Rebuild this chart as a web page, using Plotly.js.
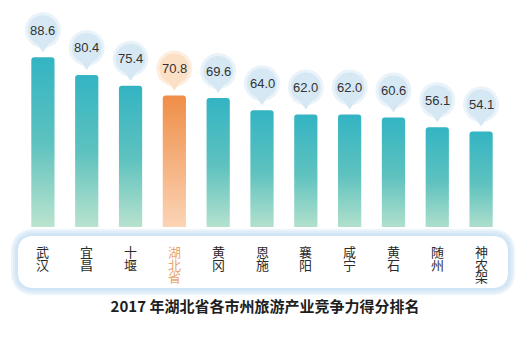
<!DOCTYPE html>
<html>
<head>
<meta charset="utf-8">
<script src="https://cdn.plot.ly/plotly-3.0.1.min.js"></script>
<style>
html,body{margin:0;padding:0;background:#fff;}
#chart{width:530px;height:338px;}
</style>
</head>
<body>
<div id="chart"></div>
<script>
// ---- data ----
const categories = ["武汉","宜昌","十堰","湖北省","黄冈","恩施","襄阳","咸宁","黄石","随州","神农架"];
const scores = [88.6, 80.4, 75.4, 70.8, 69.6, 64.0, 62.0, 62.0, 60.6, 56.1, 54.1];
const valueLabels = ["88.6","80.4","75.4","70.8","69.6","64.0","62.0","62.0","60.6","56.1","54.1"];
const highlight = "湖北省";
const chartTitle = "2017 年湖北省各市州旅游产业竞争力得分排名";

// ---- styles ----
const TEAL = "#35b5c3", ORANGE = "#f0904a";
const barColors = categories.map(c => c === highlight ? ORANGE : TEAL);

const shapes = [];
const annotations = [];

// label panel (pill) with soft blue glow
function roundRect(xl, xr, yb, yt, r) {
  return `M ${xl + r} ${yb} L ${xr - r} ${yb} Q ${xr} ${yb} ${xr} ${yb + r} L ${xr} ${yt - r} Q ${xr} ${yt} ${xr - r} ${yt} L ${xl + r} ${yt} Q ${xl} ${yt} ${xl} ${yt - r} L ${xl} ${yb + r} Q ${xl} ${yb} ${xl + r} ${yb} Z`;
}
const pillPath = roundRect(-3, 487, -61, -9, 16);
[14, 10, 6, 3].forEach(w => {
  shapes.push({type: "path", xref: "paper", yref: "paper", xsizemode: "pixel", ysizemode: "pixel",
    xanchor: 0, yanchor: 0, path: pillPath, line: {color: "#c4def4", width: w}, opacity: 0.32,
    fillcolor: "rgba(0,0,0,0)", layer: "below"});
});
shapes.push({type: "path", xref: "paper", yref: "paper", xsizemode: "pixel", ysizemode: "pixel",
  xanchor: 0, yanchor: 0, path: pillPath, line: {width: 0}, fillcolor: "#ffffff", layer: "below"});

// bubbles + value labels + vertical category labels
categories.forEach((c, i) => {
  const hl = c === highlight;
  const outer = hl ? "#fdeee0" : "#eaf3f9";
  const inner = hl ? "#fce0c6" : "#d6e8f3";
  shapes.push({type: "circle", xref: "x", yref: "y", xsizemode: "pixel", ysizemode: "pixel",
    xanchor: i, yanchor: scores[i], x0: -18, x1: 18, y0: 9, y1: 45,
    fillcolor: outer, line: {width: 0}, layer: "above"});
  shapes.push({type: "path", xref: "x", yref: "y", xsizemode: "pixel", ysizemode: "pixel",
    xanchor: i, yanchor: scores[i], path: "M -7 15 L 7 15 L 0 5 Z",
    fillcolor: inner, line: {width: 0}, layer: "above"});
  shapes.push({type: "circle", xref: "x", yref: "y", xsizemode: "pixel", ysizemode: "pixel",
    xanchor: i, yanchor: scores[i], x0: -15, x1: 15, y0: 12, y1: 42,
    fillcolor: inner, line: {width: 0}, layer: "above"});
  annotations.push({x: c, y: scores[i], xref: "x", yref: "y", yshift: 27, yanchor: "middle",
    text: valueLabels[i], showarrow: false,
    font: {family: "Liberation Sans, Arial, sans-serif", size: 13, color: "#333333"}});
  annotations.push({x: c, y: 0, xref: "x", yref: "paper", yanchor: "top", yshift: -13,
    text: Array.from(c).join("<br>"), showarrow: false,
    font: {family: "Noto Sans CJK SC, sans-serif", size: 13, color: hl ? "#e9a56e" : "#2b2b2b"}});
});

const trace = {
  type: "bar", x: categories, y: scores, width: 0.53,
  marker: {color: barColors, cornerradius: 3, line: {width: 0}},
  hoverinfo: "skip"
};

const layout = {
  width: 530, height: 338,
  margin: {l: 21, r: 27, t: 0, b: 111},
  paper_bgcolor: "#ffffff", plot_bgcolor: "#ffffff",
  showlegend: false,
  xaxis: {type: "category", range: [-0.5, 10.5], showticklabels: false, showgrid: false,
    zeroline: false, showline: false, ticks: ""},
  yaxis: {range: [9.7, 115.2], visible: false, showgrid: false, zeroline: false},
  title: {text: chartTitle, x: 0.5, xanchor: "center", y: 1 - 307 / 338, yanchor: "middle",
    yref: "container",
    font: {family: "Noto Sans CJK SC, sans-serif", size: 15, color: "#1e1e1e", weight: "bold"}},
  shapes: shapes,
  annotations: annotations
};

const gd = document.getElementById("chart");
Plotly.newPlot(gd, [trace], layout, {displayModeBar: false, staticPlot: true}).then(() => {
  const svg = gd.querySelector("svg.main-svg");
  const NS = "http://www.w3.org/2000/svg";
  let defs = svg.querySelector("defs");
  if (!defs) { defs = document.createElementNS(NS, "defs"); svg.insertBefore(defs, svg.firstChild); }
  function addGrad(id, stops) {
    const g = document.createElementNS(NS, "linearGradient");
    g.setAttribute("id", id);
    g.setAttribute("x1", "0"); g.setAttribute("y1", "0");
    g.setAttribute("x2", "0"); g.setAttribute("y2", "1");
    stops.forEach(([o, col]) => {
      const s = document.createElementNS(NS, "stop");
      s.setAttribute("offset", o); s.setAttribute("stop-color", col);
      g.appendChild(s);
    });
    defs.appendChild(g);
  }
  addGrad("gTeal", [["0", "#33b4c3"], ["0.45", "#5ec2bf"], ["1", "#d2ecd2"]]);
  addGrad("gOrange", [["0", "#ef8e47"], ["0.5", "#f6b687"], ["1", "#fde0c8"]]);
  gd.querySelectorAll(".barlayer .point path").forEach((p, i) => {
    p.style.fill = categories[i] === highlight ? "url(#gOrange)" : "url(#gTeal)";
  });
  // tighten the vertical stacking of the category characters (each line's dy is an offset from the first)
  gd.querySelectorAll(".annotation-text").forEach(t => {
    const lines = t.querySelectorAll("tspan.line");
    if (lines.length > 1) {
      lines.forEach((ln, k) => { if (k > 0) ln.setAttribute("dy", String(k * 12.5)); });
    }
  });
});
</script>
</body>
</html>
